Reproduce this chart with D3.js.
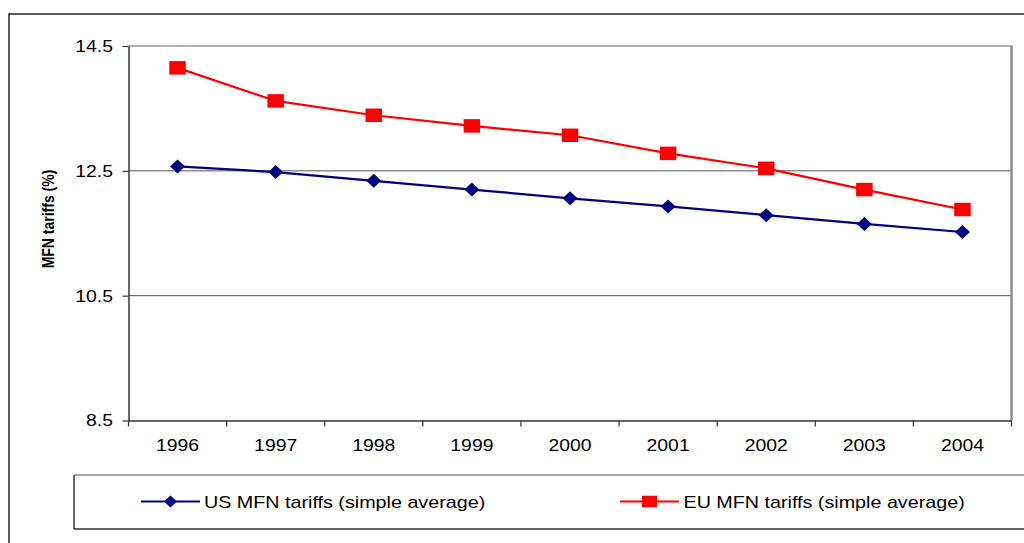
<!DOCTYPE html>
<html>
<head>
<meta charset="utf-8">
<script src="https://cdn.jsdelivr.net/npm/d3@7"></script>
<style>
  html, body { margin: 0; padding: 0; background: #fff; }
  svg { display: block; font-family: Arial, "Liberation Sans", sans-serif; }
</style>
</head>
<body>
<svg id="chart" width="1024" height="543"></svg>
<script>
// Average MFN tariff rates, 1996-2004
const years = ["1996", "1997", "1998", "1999", "2000", "2001", "2002", "2003", "2004"];
const usTariffs = [12.57, 12.48, 12.34, 12.20, 12.06, 11.93, 11.79, 11.65, 11.52];
const euTariffs = [14.15, 13.62, 13.39, 13.22, 13.07, 12.78, 12.54, 12.20, 11.88];
const yTicks = [8.5, 10.5, 12.5, 14.5];
const yTickLabels = ["8.5", "10.5", "12.5", "14.5"];
const seriesNames = ["US MFN tariffs (simple average)", "EU MFN tariffs (simple average)"];

const svg = d3.select("#chart");
const W = 1024, H = 543;
const plot = { left: 128.5, right: 1011.5, top: 46, bottom: 420.5 };
const stretch = 1.14; // horizontal text widening

const x = d3.scaleBand().domain(years).range([plot.left, plot.right]).padding(0);
const y = d3.scaleLinear().domain([8.5, 14.5]).range([plot.bottom, plot.top]);
const cx = d => x(d) + x.bandwidth() / 2;

// outer chart frame (top and left edges)
svg.append("path")
  .attr("d", `M9,${H} V14 H${W}`)
  .attr("fill", "none").attr("stroke", "#222").attr("stroke-width", 1.5);

// horizontal gridlines
svg.append("g").selectAll("line")
  .data(yTicks.filter(t => t > 8.5 && t < 14.5))
  .join("line")
  .attr("x1", plot.left).attr("x2", plot.right)
  .attr("y1", d => y(d)).attr("y2", d => y(d))
  .attr("stroke", "#555").attr("stroke-width", 1);

// plot-area frame: top and right edges
svg.append("line")
  .attr("x1", plot.left).attr("x2", plot.right + 1)
  .attr("y1", plot.top).attr("y2", plot.top)
  .attr("stroke", "#999").attr("stroke-width", 1.5);
svg.append("line")
  .attr("x1", plot.right).attr("x2", plot.right)
  .attr("y1", plot.top).attr("y2", plot.bottom)
  .attr("stroke", "#8c8c8c").attr("stroke-width", 2.5);

// y axis
const yAxis = svg.append("g")
  .attr("transform", `translate(${plot.left},0)`)
  .call(d3.axisLeft(y).tickValues(yTicks)
    .tickFormat((d, i) => yTickLabels[i])
    .tickSize(6).tickSizeOuter(0));
yAxis.select(".domain").attr("stroke", "#333").attr("stroke-width", 1.5);
yAxis.selectAll(".tick line").attr("stroke", "#333").attr("stroke-width", 1.2);
yAxis.selectAll(".tick text")
  .attr("x", -15.5 / stretch)
  .attr("transform", `scale(${stretch},1)`)
  .attr("font-size", 17).attr("fill", "#000");

// x axis: labels centred in each band, ticks on band boundaries
const xAxis = svg.append("g")
  .attr("transform", `translate(0,${plot.bottom})`)
  .call(d3.axisBottom(x).tickSize(0).tickPadding(18).tickSizeOuter(0));
xAxis.select(".domain").attr("stroke", "#333").attr("stroke-width", 1.5);
xAxis.selectAll(".tick text")
  .attr("transform", `scale(${stretch},1)`)
  .attr("font-size", 17).attr("fill", "#000");
xAxis.append("g").selectAll("line")
  .data(years.map(d => x(d)).concat([x.range()[1]]))
  .join("line")
  .attr("x1", d => d).attr("x2", d => d)
  .attr("y1", 0).attr("y2", 6)
  .attr("stroke", "#333").attr("stroke-width", 1.2);

// y axis title
svg.append("text")
  .attr("transform", `translate(54,219) scale(${stretch},1) rotate(-90)`)
  .attr("text-anchor", "middle")
  .attr("font-size", 14).attr("font-weight", "bold").attr("fill", "#000")
  .text("MFN tariffs (%)");

// marker shapes
const diamondPath = (w, h) => `M0,${-h / 2} L${w / 2},0 L0,${h / 2} L${-w / 2},0 Z`;
const squarePath = (w, h) => `M${-w / 2},${-h / 2} H${w / 2} V${h / 2} H${-w / 2} Z`;

const line = d3.line().x(d => cx(d.year)).y(d => y(d.value));
const series = [
  { name: seriesNames[0], values: usTariffs, color: "#000080", marker: diamondPath(15, 14), legendMarker: diamondPath(13, 12) },
  { name: seriesNames[1], values: euTariffs, color: "#ff0000", marker: squarePath(16.5, 13.5), legendMarker: squarePath(15, 11.5) }
];

series.forEach(s => {
  const pts = years.map((yr, i) => ({ year: yr, value: s.values[i] }));
  svg.append("path")
    .datum(pts)
    .attr("d", line)
    .attr("fill", "none").attr("stroke", s.color).attr("stroke-width", 2.2);
  svg.append("g").selectAll("path")
    .data(pts)
    .join("path")
    .attr("transform", d => `translate(${cx(d.year)},${y(d.value)})`)
    .attr("d", s.marker)
    .attr("fill", s.color);
});

// legend
const legend = svg.append("g");
legend.append("line").attr("x1", 74).attr("x2", W).attr("y1", 475).attr("y2", 475)
  .attr("stroke", "#888").attr("stroke-width", 1.5);
legend.append("line").attr("x1", 74).attr("x2", W).attr("y1", 529).attr("y2", 529)
  .attr("stroke", "#333").attr("stroke-width", 1.5);
legend.append("line").attr("x1", 74).attr("x2", 74).attr("y1", 475).attr("y2", 529)
  .attr("stroke", "#333").attr("stroke-width", 1.5);

const legendX = [141, 620];
series.forEach((s, i) => {
  const g = legend.append("g").attr("transform", `translate(${legendX[i]},501.5)`);
  g.append("line").attr("x1", 0).attr("x2", 59).attr("y1", 0).attr("y2", 0)
    .attr("stroke", s.color).attr("stroke-width", 2.2);
  g.append("path").attr("transform", "translate(29.5,0)").attr("d", s.legendMarker).attr("fill", s.color);
  g.append("text")
    .attr("transform", `translate(${i === 0 ? 63 : 63.5},6.5) scale(1.16,1)`)
    .attr("font-size", 17).attr("fill", "#000")
    .text(s.name);
});
</script>
</body>
</html>
